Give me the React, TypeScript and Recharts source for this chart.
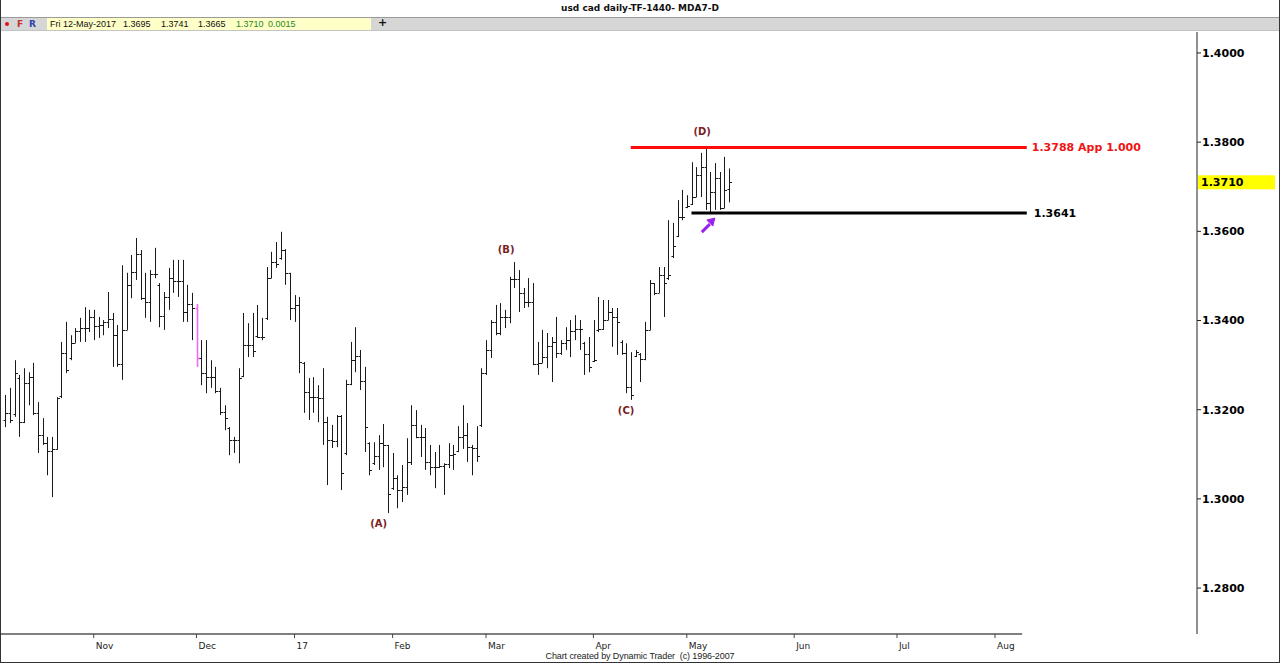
import React from "react";
import { ComposedChart, Bar, XAxis, YAxis, ReferenceLine, ReferenceDot } from "recharts";

// USD/CAD daily bars, 5-Oct-2016 .. 12-May-2017 (one entry per trading day)
const highs = [
  1.3233, 1.3249, 1.3311, 1.3278, 1.3293, 1.3284, 1.3305, 1.3217, 1.3181, 1.3139,
  1.3139, 1.3228, 1.3352, 1.3397, 1.3367, 1.3383, 1.3406, 1.3430, 1.3424, 1.3424,
  1.3408, 1.3401, 1.3464, 1.3417, 1.3390, 1.3524, 1.3507, 1.3547, 1.3585, 1.3558,
  1.3507, 1.3513, 1.3563, 1.3484, 1.3464, 1.3518, 1.3536, 1.3536, 1.3536, 1.3480,
  1.3462, 1.3437, 1.3356, 1.3356, 1.3311, 1.3296, 1.3249, 1.3210, 1.3161, 1.3139,
  1.3293, 1.3417, 1.3394, 1.3417, 1.3435, 1.3406, 1.3520, 1.3554, 1.3576, 1.3599,
  1.3560, 1.3507, 1.3457, 1.3453, 1.3307, 1.3271, 1.3273, 1.3255, 1.3293, 1.3184,
  1.3166, 1.3188, 1.3188, 1.3267, 1.3352, 1.3385, 1.3334, 1.3296, 1.3127, 1.3127,
  1.3143, 1.3168, 1.3121, 1.3103, 1.3053, 1.3076, 1.3136, 1.3210, 1.3199, 1.3166,
  1.3159, 1.3121, 1.3105, 1.3121, 1.3080, 1.3125, 1.3121, 1.3163, 1.3210, 1.3170,
  1.3121, 1.3163, 1.3293, 1.3356, 1.3401, 1.3435, 1.3439, 1.3424, 1.3498, 1.3531,
  1.3513, 1.3473, 1.3495, 1.3484, 1.3352, 1.3379, 1.3372, 1.3363, 1.3408, 1.3356,
  1.3385, 1.3401, 1.3412, 1.3401, 1.3352, 1.3363, 1.3401, 1.3453, 1.3446, 1.3446,
  1.3428, 1.3428, 1.3356, 1.3349, 1.3329, 1.3334, 1.3327, 1.3397, 1.3491, 1.3484,
  1.3520, 1.3520, 1.3625, 1.3619, 1.3670, 1.3693, 1.3681, 1.3755, 1.3744, 1.3776,
  1.3789, 1.3733, 1.3753, 1.3733, 1.3767, 1.3741,
];
const lows = [
  1.3161, 1.3170, 1.3184, 1.3139, 1.3170, 1.3210, 1.3188, 1.3103, 1.3121, 1.3053,
  1.3004, 1.3110, 1.3226, 1.3282, 1.3311, 1.3350, 1.3352, 1.3352, 1.3374, 1.3356,
  1.3361, 1.3367, 1.3383, 1.3296, 1.3296, 1.3267, 1.3379, 1.3450, 1.3491, 1.3446,
  1.3406, 1.3397, 1.3495, 1.3385, 1.3379, 1.3424, 1.3462, 1.3453, 1.3397, 1.3397,
  1.3356, 1.3296, 1.3255, 1.3237, 1.3249, 1.3237, 1.3188, 1.3154, 1.3098, 1.3103,
  1.3080, 1.3273, 1.3318, 1.3318, 1.3361, 1.3356, 1.3401, 1.3495, 1.3518, 1.3536,
  1.3480, 1.3401, 1.3397, 1.3282, 1.3193, 1.3177, 1.3193, 1.3172, 1.3121, 1.3031,
  1.3114, 1.3116, 1.3020, 1.3098, 1.3255, 1.3284, 1.3244, 1.3105, 1.3053, 1.3076,
  1.3065, 1.3071, 1.2968, 1.3020, 1.2979, 1.2993, 1.3009, 1.3076, 1.3136, 1.3094,
  1.3065, 1.3053, 1.3024, 1.3069, 1.3009, 1.3069, 1.3065, 1.3105, 1.3112, 1.3083,
  1.3053, 1.3083, 1.3161, 1.3278, 1.3316, 1.3367, 1.3367, 1.3383, 1.3394, 1.3473,
  1.3419, 1.3428, 1.3430, 1.3300, 1.3278, 1.3305, 1.3293, 1.3262, 1.3316, 1.3323,
  1.3334, 1.3318, 1.3356, 1.3334, 1.3278, 1.3284, 1.3307, 1.3374, 1.3379, 1.3401,
  1.3341, 1.3323, 1.3323, 1.3237, 1.3222, 1.3318, 1.3262, 1.3311, 1.3379, 1.3457,
  1.3462, 1.3408, 1.3491, 1.3540, 1.3587, 1.3625, 1.3652, 1.3659, 1.3677, 1.3677,
  1.3648, 1.3641, 1.3648, 1.3648, 1.3652, 1.3665,
];
const opens = [
  1.3177, 1.3193, 1.3190, 1.3270, 1.3172, 1.3260, 1.3273, 1.3193, 1.3143, 1.3125,
  1.3107, 1.3112, 1.3230, 1.3327, 1.3315, 1.3350, 1.3376, 1.3383, 1.3383, 1.3408,
  1.3388, 1.3390, 1.3397, 1.3403, 1.3367, 1.3302, 1.3379, 1.3480, 1.3509, 1.3549,
  1.3450, 1.3442, 1.3504, 1.3480, 1.3410, 1.3453, 1.3495, 1.3489, 1.3489, 1.3419,
  1.3437, 1.3428, 1.3316, 1.3282, 1.3273, 1.3273, 1.3242, 1.3195, 1.3158, 1.3132,
  1.3132, 1.3275, 1.3345, 1.3345, 1.3365, 1.3363, 1.3405, 1.3495, 1.3531, 1.3540,
  1.3558, 1.3507, 1.3428, 1.3435, 1.3305, 1.3240, 1.3228, 1.3228, 1.3226, 1.3172,
  1.3132, 1.3130, 1.3186, 1.3102, 1.3258, 1.3311, 1.3320, 1.3264, 1.3125, 1.3080,
  1.3096, 1.3125, 1.3121, 1.3024, 1.3047, 1.3020, 1.3027, 1.3083, 1.3166, 1.3139,
  1.3139, 1.3083, 1.3071, 1.3071, 1.3074, 1.3078, 1.3098, 1.3108, 1.3139, 1.3143,
  1.3116, 1.3114, 1.3165, 1.3282, 1.3334, 1.3397, 1.3372, 1.3408, 1.3408, 1.3493,
  1.3493, 1.3462, 1.3442, 1.3442, 1.3302, 1.3305, 1.3318, 1.3343, 1.3352, 1.3327,
  1.3350, 1.3356, 1.3376, 1.3381, 1.3350, 1.3325, 1.3310, 1.3378, 1.3381, 1.3401,
  1.3419, 1.3408, 1.3352, 1.3327, 1.3251, 1.3320, 1.3325, 1.3314, 1.3379, 1.3484,
  1.3462, 1.3502, 1.3495, 1.3545, 1.3590, 1.3632, 1.3655, 1.3662, 1.3677, 1.3726,
  1.3744, 1.3664, 1.3688, 1.3720, 1.3652, 1.3695,
];
const closes = [
  1.3193, 1.3177, 1.3282, 1.3172, 1.3260, 1.3273, 1.3193, 1.3143, 1.3125, 1.3107,
  1.3112, 1.3226, 1.3327, 1.3289, 1.3350, 1.3376, 1.3383, 1.3383, 1.3408, 1.3388,
  1.3390, 1.3397, 1.3403, 1.3367, 1.3302, 1.3379, 1.3480, 1.3509, 1.3549, 1.3450,
  1.3442, 1.3504, 1.3504, 1.3410, 1.3453, 1.3495, 1.3489, 1.3489, 1.3419, 1.3437,
  1.3428, 1.3316, 1.3282, 1.3273, 1.3273, 1.3242, 1.3195, 1.3181, 1.3132, 1.3132,
  1.3271, 1.3345, 1.3345, 1.3332, 1.3363, 1.3363, 1.3495, 1.3531, 1.3527, 1.3558,
  1.3507, 1.3428, 1.3435, 1.3307, 1.3240, 1.3228, 1.3228, 1.3226, 1.3172, 1.3132,
  1.3130, 1.3186, 1.3058, 1.3258, 1.3311, 1.3320, 1.3264, 1.3161, 1.3065, 1.3096,
  1.3125, 1.3121, 1.3011, 1.3047, 1.3020, 1.3027, 1.3083, 1.3166, 1.3139, 1.3139,
  1.3083, 1.3071, 1.3071, 1.3074, 1.3078, 1.3098, 1.3101, 1.3139, 1.3143, 1.3116,
  1.3114, 1.3096, 1.3282, 1.3334, 1.3397, 1.3372, 1.3408, 1.3408, 1.3493, 1.3493,
  1.3462, 1.3442, 1.3442, 1.3302, 1.3305, 1.3318, 1.3343, 1.3352, 1.3327, 1.3350,
  1.3356, 1.3376, 1.3381, 1.3381, 1.3325, 1.3296, 1.3311, 1.3381, 1.3401, 1.3419,
  1.3408, 1.3397, 1.3327, 1.3251, 1.3233, 1.3329, 1.3314, 1.3379, 1.3484, 1.3462,
  1.3502, 1.3484, 1.3502, 1.3567, 1.3632, 1.3632, 1.3657, 1.3677, 1.3726, 1.3744,
  1.3664, 1.3688, 1.3720, 1.3652, 1.3693, 1.3710,
];

// first trading day of each month (bar index) and its label
const monthTicks = [19, 41, 62, 83, 103, 126, 146, 169, 191, 212];
const monthLabels = ["Nov", "Dec", "17", "Feb", "Mar", "Apr", "May", "Jun", "Jul", "Aug"];
const priceTicks = [1.28, 1.30, 1.32, 1.34, 1.36, 1.38, 1.40];

const MARKED_BAR = 41; // bar drawn in magenta
const waveLabels = [
  { text: "(A)", i: 80, price: 1.2946 },
  { text: "(B)", i: 107.3, price: 1.3560 },
  { text: "(C)", i: 133, price: 1.3199 },
  { text: "(D)", i: 149.3, price: 1.3825 },
];
const target = { price: 1.3788, from: 134, label: "1.3788 App 1.000" };
const support = { price: 1.3641, from: 147, label: "1.3641" };
const arrowAt = { i: 150.5, price: 1.3614 };

const X_DOMAIN: [number, number] = [-1.07, 255.25];
const Y_DOMAIN: [number, number] = [1.2697, 1.4047];
const AXIS_END = 217.8; // date axis stops short of the price scale
const LINE_END = 218.8;

const FONT = '"DejaVu Sans", Verdana, sans-serif';
const SMALL = '"Liberation Sans", Arial, sans-serif';
const RED = "#f01414";
const WAVE = "#7a1f1f";

const data = highs.map((h, i) => ({
  i,
  range: [lows[i], h],
  open: opens[i],
  close: closes[i],
}));
const last = data[data.length - 1];

function OhlcBar(props: any) {
  const { x, y, width, height, payload } = props;
  if (x == null || !payload) return null;
  const [lo, hi] = payload.range;
  const top = Math.min(y, y + height);
  const bot = Math.max(y, y + height);
  const span = hi - lo || 1;
  const py = (v: number) => Math.round(top + ((hi - v) / span) * (bot - top)) + 0.5;
  const cx = Math.round(x + width / 2) + 0.5;
  const marked = payload.i === MARKED_BAR;
  return (
    <g stroke={marked ? "#f06cf0" : "#1a1a1a"} strokeWidth={marked ? 1.6 : 1}>
      <line x1={cx} x2={cx} y1={top} y2={bot} />
      <line x1={cx - 2} x2={cx} y1={py(payload.open)} y2={py(payload.open)} />
      <line x1={cx} x2={cx + 2.5} y1={py(payload.close)} y2={py(payload.close)} />
    </g>
  );
}

function MonthTick(props: any) {
  const { x, y, payload } = props;
  const k = monthTicks.indexOf(payload.value);
  return (
    <text x={x + 2} y={y + 9} fontSize={9} fontFamily={FONT} fill="#222">
      {monthLabels[k]}
    </text>
  );
}

function LastPriceTag(props: any) {
  const vb = props.viewBox;
  if (!vb) return null;
  const x = vb.x + vb.width;
  return (
    <g>
      <rect x={x + 1} y={vb.y - 7} width={77} height={14} fill="#ffff00" />
      <text x={x + 4} y={vb.y + 4} fontSize={11} fontWeight="bold" fontFamily={FONT} fill="#000">
        {last.close.toFixed(4)}
      </text>
    </g>
  );
}

function Arrow(props: any) {
  const { cx, cy } = props;
  return (
    <g fill="#9a22ee" stroke="#9a22ee">
      <line x1={cx - 6} y1={cy + 7} x2={cx + 2} y2={cy - 1} strokeWidth={3} />
      <polygon points={`${cx + 7},${cy - 7} ${cx - 1},${cy - 5} ${cx + 5},${cy + 1}`} strokeWidth={1} />
    </g>
  );
}

function Header() {
  const vals = [
    { t: "1.3695", x: 123, c: "#111" },
    { t: "1.3741", x: 161, c: "#111" },
    { t: "1.3665", x: 198, c: "#111" },
    { t: "1.3710", x: 236, c: "#1f8a1f" },
    { t: "0.0015", x: 268, c: "#1f8a1f" },
  ];
  return (
    <>
      <div style={{ position: "absolute", left: 0, top: 0, width: 1280, height: 17, textAlign: "center",
        font: `bold 9px ${FONT}`, lineHeight: "17px", color: "#111" }}>
        usd cad daily-TF-1440- MDA7-D
      </div>
      <div style={{ position: "absolute", left: 0, top: 17, width: 1280, height: 14, background: "#d6d6d6",
        borderTop: "1px solid #9a9a9a", borderBottom: "1px solid #c4c4c4", boxSizing: "border-box" }}>
        <span style={{ position: "absolute", left: 5, top: 4, width: 4, height: 4, borderRadius: 2, background: "#e01010" }} />
        <span style={{ position: "absolute", left: 17, top: 0, font: `bold 9px ${FONT}`, lineHeight: "12px", color: "#c03030" }}>F</span>
        <span style={{ position: "absolute", left: 29, top: 0, font: `bold 9px ${FONT}`, lineHeight: "12px", color: "#3040b0" }}>R</span>
        <div style={{ position: "absolute", left: 47, top: 0, width: 324, height: 12, background: "#ffffc8" }} />
        <span style={{ position: "absolute", left: 50, top: 0, font: `9px ${SMALL}`, lineHeight: "12px", color: "#111" }}>Fri 12-May-2017</span>
        {vals.map((v) => (
          <span key={v.x} style={{ position: "absolute", left: v.x, top: 0, font: `9px ${SMALL}`, lineHeight: "12px", color: v.c }}>{v.t}</span>
        ))}
        <span style={{ position: "absolute", left: 378, top: -1, font: `bold 11px ${FONT}`, lineHeight: "12px", color: "#111" }}>+</span>
      </div>
    </>
  );
}

export default function App() {
  return (
    <div style={{ position: "absolute", left: 0, top: 0, width: 1280, height: 663, background: "#fff", overflow: "hidden" }}>
      <Header />
      <div style={{ position: "absolute", left: 0, top: 32 }}>
        <ComposedChart width={1280} height={630} data={data} margin={{ top: 0, right: 0, bottom: 0, left: 0 }}>
          <XAxis dataKey="i" type="number" domain={X_DOMAIN} allowDataOverflow ticks={monthTicks}
            interval={0} height={28} axisLine={false} tickLine={{ stroke: "#444" }} tickSize={4}
            tick={<MonthTick />} />
          <YAxis orientation="right" type="number" domain={Y_DOMAIN} allowDataOverflow ticks={priceTicks}
            width={83} axisLine={{ stroke: "#222" }} tickLine={{ stroke: "#222" }} tickSize={4} tickMargin={1}
            tickFormatter={(v: number) => v.toFixed(4)}
            tick={{ fontSize: 11, fontWeight: "bold", fontFamily: FONT, fill: "#000" }} />
          <ReferenceLine segment={[{ x: X_DOMAIN[0], y: Y_DOMAIN[0] }, { x: AXIS_END, y: Y_DOMAIN[0] }]}
            stroke="#555" strokeWidth={1.5} ifOverflow="visible" />
          <Bar dataKey="range" shape={<OhlcBar />} barSize={3} isAnimationActive={false} />
          <ReferenceLine segment={[{ x: target.from, y: target.price }, { x: LINE_END, y: target.price }]}
            stroke="#ff0a0a" strokeWidth={3} ifOverflow="visible"
            label={{ value: target.label, position: "right", offset: 5, fill: RED, fontSize: 11, fontWeight: "bold", fontFamily: FONT }} />
          <ReferenceLine segment={[{ x: support.from, y: support.price }, { x: LINE_END, y: support.price }]}
            stroke="#000" strokeWidth={3} ifOverflow="visible"
            label={{ value: support.label, position: "right", offset: 7, fill: "#000", fontSize: 11, fontWeight: "bold", fontFamily: FONT }} />
          <ReferenceLine y={last.close} stroke="none" ifOverflow="visible" label={<LastPriceTag />} />
          {waveLabels.map((w) => (
            <ReferenceDot key={w.text} x={w.i} y={w.price} r={0} ifOverflow="visible"
              shape={(p: any) => (
                <text x={p.cx} y={p.cy + 4} textAnchor="middle" fontSize={10} fontWeight="bold" fontFamily={FONT} fill={WAVE}>
                  {w.text}
                </text>
              )} />
          ))}
          <ReferenceDot x={arrowAt.i} y={arrowAt.price} r={0} ifOverflow="visible" shape={<Arrow />} />
        </ComposedChart>
      </div>
      <div style={{ position: "absolute", left: 0, top: 651, width: 1280, textAlign: "center",
        font: `9px ${SMALL}`, color: "#222", letterSpacing: -0.1 }}>
        Chart created by Dynamic Trader&nbsp;&nbsp;(c) 1996-2007
      </div>
      <div style={{ position: "absolute", left: 0, top: 0, width: 1280, height: 663, boxSizing: "border-box",
        border: "1px solid #333", borderTop: "none", pointerEvents: "none" }} />
    </div>
  );
}
